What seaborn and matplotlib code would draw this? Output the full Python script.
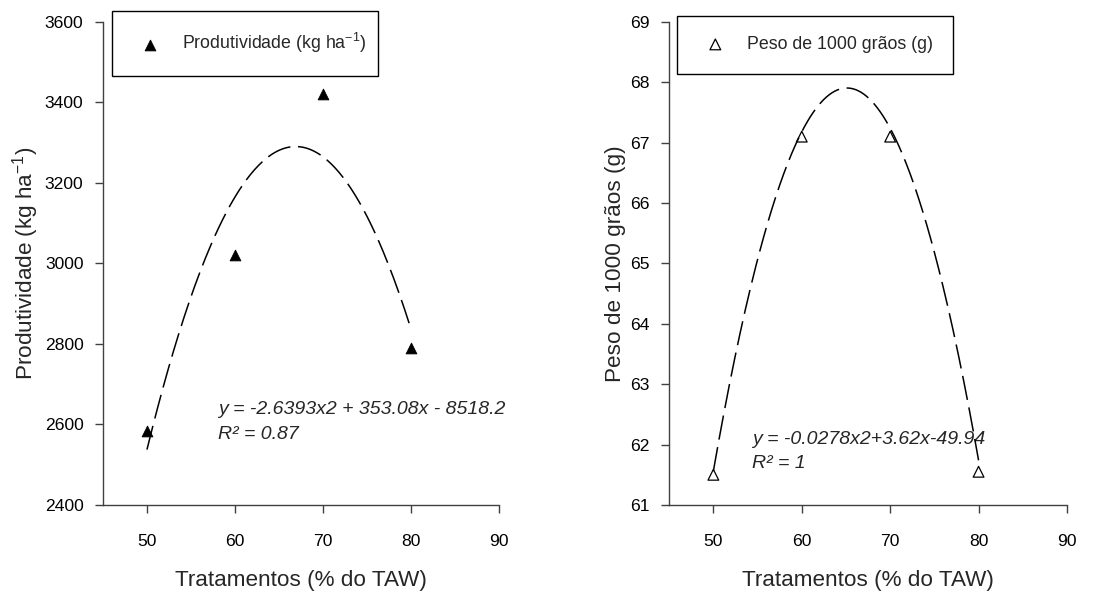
import numpy as np
import pandas as pd
import matplotlib
matplotlib.use("Agg")
import matplotlib.pyplot as plt
import seaborn as sns

# Treatment levels (% of total available water)
tratamentos = [50, 60, 70, 80]
# Observed yield (kg/ha) and 1000-grain weight (g)
produtividade = [2585, 3020, 3420, 2790]
peso_1000 = [61.5, 67.1, 67.1, 61.55]

# Quadratic fit coefficients (a*x^2 + b*x + c)
coef_prod = [-2.6393, 353.08, -8518.2]
coef_peso = [-0.0278, 3.62, -49.94]

x_ticks = [50, 60, 70, 80, 90]
y_ticks_prod = [2400, 2600, 2800, 3000, 3200, 3400, 3600]
y_ticks_peso = [61, 62, 63, 64, 65, 66, 67, 68, 69]

sns.set_theme(style="ticks")
plt.rcParams["font.family"] = ["Liberation Sans", "DejaVu Sans"]
plt.rcParams["mathtext.fontset"] = "custom"
plt.rcParams["mathtext.rm"] = "Liberation Sans"
plt.rcParams["mathtext.it"] = "Liberation Sans:italic"

fs_tick = 12.6
fs_label = 16.2
fs_leg = 12.8
fs_eq = 14.0

fig = plt.figure(figsize=(11.19, 5.92), dpi=100)
ax1 = fig.add_axes([0.092, 0.147, 0.354, 0.816])
ax2 = fig.add_axes([0.598, 0.147, 0.3555, 0.816])

xs = np.linspace(50, 80, 200)
spine_col = "#404040"


def panel(ax, yvals, coef, marker_kw, label, ylabel, ylim, yticks, eq, r2, eq_pos, r2_pos):
    df = pd.DataFrame({"x": tratamentos, "y": yvals})
    fit = pd.DataFrame({"x": xs, "y": np.polyval(coef, xs)})
    sns.lineplot(data=fit, x="x", y="y", ax=ax, color="black", lw=1.1,
                 label="_nolegend_", zorder=4)
    ax.lines[-1].set_dashes((16, 5))
    sns.scatterplot(data=df, x="x", y="y", ax=ax, marker="^", s=60,
                    label=label, zorder=3, **marker_kw)
    ax.set_xlim(45, 90)
    ax.set_ylim(*ylim)
    ax.set_xticks(x_ticks)
    ax.set_yticks(yticks)
    ax.set_xlabel("Tratamentos (% do TAW)", fontsize=fs_label, labelpad=15)
    ax.set_ylabel(ylabel, fontsize=fs_label, labelpad=3)
    ax.tick_params(axis="both", labelsize=fs_tick, colors=spine_col,
                   labelcolor="black", width=1, length=6, pad=8)
    ax.tick_params(axis="x", pad=15)
    for s in ["top", "right"]:
        ax.spines[s].set_visible(False)
    for s in ["left", "bottom"]:
        ax.spines[s].set_color(spine_col)
        ax.spines[s].set_linewidth(1)
    ax.text(*eq_pos, eq, fontsize=fs_eq, style="italic", va="center")
    ax.text(*r2_pos, r2, fontsize=fs_eq, style="italic", va="center")
    return ax


panel(ax1, produtividade, coef_prod, dict(color="black", edgecolor="black"),
      "Produtividade (kg ha$^{-1}$)", "Produtividade (kg ha$^{-1}$)",
      (2400, 3600), y_ticks_prod,
      "y = -2.6393x2 + 353.08x - 8518.2", "R² = 0.87",
      (58.1, 2636), (58.1, 2574))

panel(ax2, peso_1000, coef_peso, dict(facecolor="none", edgecolor="black", linewidth=0.9),
      "Peso de 1000 grãos (g)", "Peso de 1000 grãos (g)",
      (61, 69), y_ticks_peso,
      "y = -0.0278x2+3.62x-49.94", "R² = 1",
      (54.4, 62.08), (54.4, 61.68))

legend_boxes = {ax1: (0.023, 1.023, 0.672), ax2: (0.02, 1.013, 0.693)}
for ax, (x0, y0, w) in legend_boxes.items():
    leg = ax.legend(loc="upper left", bbox_to_anchor=(x0, y0 - 0.13, w, 0.13),
                    mode="expand", fancybox=False, edgecolor="black",
                    framealpha=1, fontsize=fs_leg, borderpad=1.15,
                    handlelength=2.0, handletextpad=0.8, borderaxespad=0)
    leg.get_frame().set_linewidth(1.0)

fig.savefig("out.png", dpi=100)
